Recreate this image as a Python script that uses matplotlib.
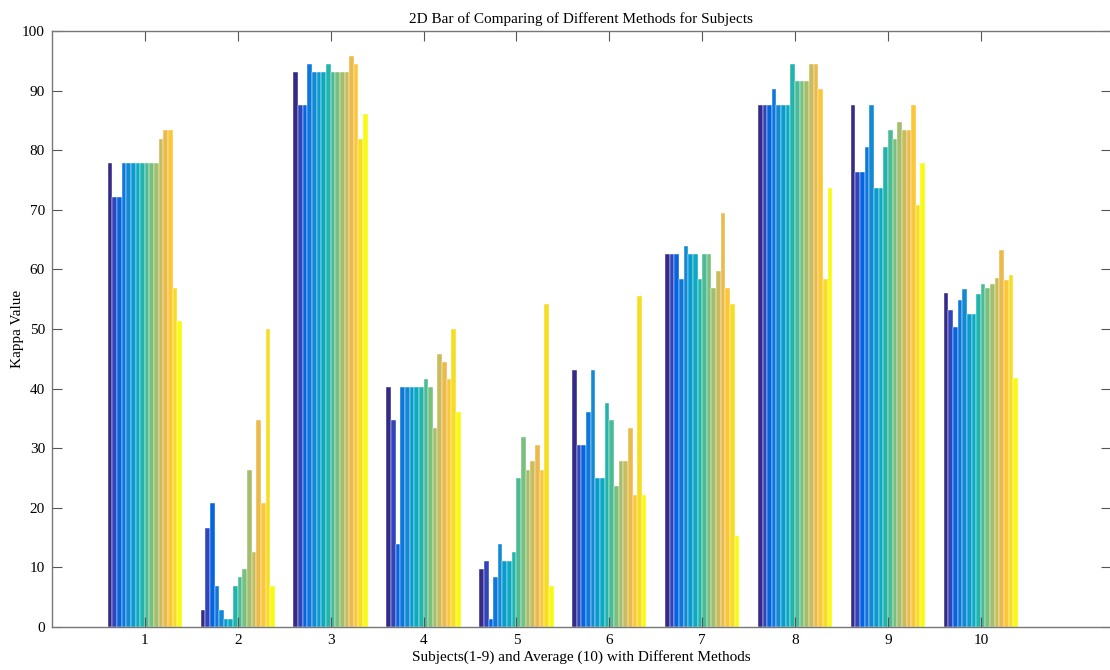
import numpy as np
import matplotlib
matplotlib.use("Agg")
import matplotlib.pyplot as plt
from matplotlib.colors import LinearSegmentedColormap

plt.rcParams["font.family"] = ["Liberation Serif", "DejaVu Serif"]

subjects = ["1", "2", "3", "4", "5", "6", "7", "8", "9", "10"]

# kappa (%) per subject, one entry per method (16 methods)
kappa_s1 = [77.78, 72.22, 72.22, 77.78, 77.78, 77.78, 77.78, 77.78, 77.78, 77.78, 77.78, 81.94, 83.33, 83.33, 56.94, 51.39]
kappa_s2 = [2.78, 16.67, 20.83, 6.94, 2.78, 1.39, 1.39, 6.94, 8.33, 9.72, 26.39, 12.50, 34.72, 20.83, 50.00, 6.94]
kappa_s3 = [93.06, 87.50, 87.50, 94.44, 93.06, 93.06, 93.06, 94.44, 93.06, 93.06, 93.06, 93.06, 95.83, 94.44, 81.94, 86.11]
kappa_s4 = [40.28, 34.72, 13.89, 40.28, 40.28, 40.28, 40.28, 40.28, 41.67, 40.28, 33.33, 45.83, 44.44, 41.67, 50.00, 36.11]
kappa_s5 = [9.72, 11.11, 1.39, 8.33, 13.89, 11.11, 11.11, 12.50, 25.00, 31.94, 26.39, 27.78, 30.56, 26.39, 54.17, 6.94]
kappa_s6 = [43.06, 30.56, 30.56, 36.11, 43.06, 25.00, 25.00, 37.50, 34.72, 23.61, 27.78, 27.78, 33.33, 22.22, 55.56, 22.22]
kappa_s7 = [62.50, 62.50, 62.50, 58.33, 63.89, 62.50, 62.50, 58.33, 62.50, 62.50, 56.94, 59.72, 69.44, 56.94, 54.17, 15.28]
kappa_s8 = [87.50, 87.50, 87.50, 90.28, 87.50, 87.50, 87.50, 94.44, 91.67, 91.67, 91.67, 94.44, 94.44, 90.28, 58.33, 73.61]
kappa_s9 = [87.50, 76.39, 76.39, 80.56, 87.50, 73.61, 73.61, 80.56, 83.33, 81.94, 84.72, 83.33, 83.33, 87.50, 70.83, 77.78]
kappa_avg = [56.02, 53.24, 50.31, 54.78, 56.64, 52.47, 52.47, 55.86, 57.56, 56.94, 57.56, 58.49, 63.27, 58.18, 59.10, 41.82]

kappa = np.array([kappa_s1, kappa_s2, kappa_s3, kappa_s4, kappa_s5,
                  kappa_s6, kappa_s7, kappa_s8, kappa_s9, kappa_avg])
n_groups, n_methods = kappa.shape

# parula-like colormap (subset of the 64-entry table)
parula_pts = [
    (0.2081, 0.1663, 0.5292), (0.1959, 0.2645, 0.7279), (0.0117, 0.3875, 0.8820),
    (0.0498, 0.4586, 0.8641), (0.0793, 0.5200, 0.8312), (0.0343, 0.5966, 0.8199),
    (0.0228, 0.6535, 0.7768), (0.0843, 0.6928, 0.7062), (0.2178, 0.7250, 0.6193),
    (0.3953, 0.7459, 0.5244), (0.5709, 0.7485, 0.4494), (0.7184, 0.7411, 0.3905),
    (0.8507, 0.7299, 0.3360), (0.9739, 0.7314, 0.2666), (0.9880, 0.8066, 0.1794),
    (0.9589, 0.8949, 0.1132), (0.9763, 0.9831, 0.0538),
]
pos = np.r_[np.arange(0, 64, 4), 63] / 63.0
parula = LinearSegmentedColormap.from_list("parula", list(zip(pos, parula_pts)))
colors = parula(np.linspace(0, 1, n_methods))

fig = plt.figure(figsize=(11.1, 6.7), dpi=100)
ax = fig.add_axes([0.0468, 0.0642, 0.954, 0.8896])

x = np.arange(1, n_groups + 1)
group_w = 0.8
bw = group_w / n_methods
for m in range(n_methods):
    offs = -group_w / 2 + bw * (m + 0.5)
    ax.bar(x + offs, kappa[:, m], width=bw, color=colors[m],
           edgecolor="white", linewidth=0.3)

ax.set_xlim(0, 11.4)
ax.set_ylim(0, 100)
ax.set_xticks(x)
ax.set_xticklabels(subjects)
ax.set_yticks(np.arange(0, 101, 10))
ax.tick_params(direction="in", length=7, width=0.8, color="#555555",
               labelsize=11, top=True, right=True, pad=5)
for sp in ax.spines.values():
    sp.set_color("#777777")
    sp.set_linewidth(1.0)

ax.set_title("2D Bar of Comparing of Different Methods for Subjects", fontsize=11, pad=6)
ax.set_xlabel("Subjects(1-9) and Average (10) with Different Methods", fontsize=11, labelpad=2)
ax.set_ylabel("Kappa Value", fontsize=11, labelpad=-1)

fig.savefig("out.png", dpi=100)
